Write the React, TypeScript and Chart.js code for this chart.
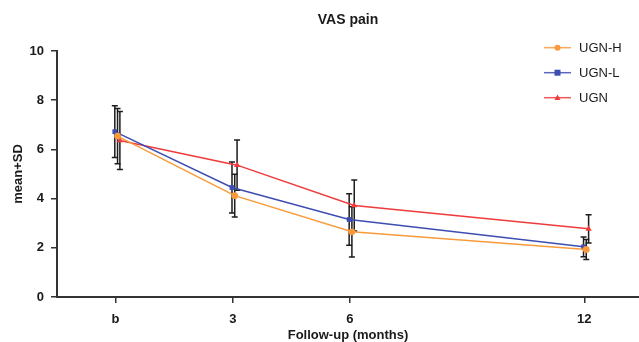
import React, { useEffect, useRef } from 'react';
import { Chart, registerables } from 'chart.js';

Chart.register(...registerables);

// ---- data ----
const timepoints = [0, 3, 6, 12];
const tickLabels = ['b', '3', '6', '12'];
const yTicks = [0, 2, 4, 6, 8, 10];

const ugnHMean = [6.54, 4.12, 2.65, 1.93];
const ugnHSD = [1.12, 0.87, 1.02, 0.41];
const ugnLMean = [6.72, 4.45, 3.15, 2.04];
const ugnLSD = [1.05, 1.04, 1.05, 0.4];
const ugnMean = [6.36, 5.36, 3.72, 2.77];
const ugnSD = [1.18, 1.02, 1.04, 0.57];

const FONT = '"Liberation Sans", Arial, Helvetica, sans-serif';
const TEXT = '#1a1a1a';
const AXIS = '#333333';

const series = [
  { name: 'UGN-H', mean: ugnHMean, sd: ugnHSD, color: '#F99B3A', marker: 'circle', dodge: 0.05 },
  { name: 'UGN-L', mean: ugnLMean, sd: ugnLSD, color: '#3D4DB2', marker: 'rect', dodge: -0.02 },
  { name: 'UGN', mean: ugnMean, sd: ugnSD, color: '#EF3B3B', marker: 'triangle', dodge: 0.11 },
];

function drawMarker(ctx: CanvasRenderingContext2D, kind: string, x: number, y: number, r: number, color: string) {
  ctx.save();
  ctx.fillStyle = color;
  ctx.beginPath();
  if (kind === 'circle') {
    ctx.arc(x, y, r, 0, Math.PI * 2);
  } else if (kind === 'rect') {
    ctx.rect(x - r, y - r, r * 2, r * 2);
  } else {
    ctx.moveTo(x, y - r * 1.1);
    ctx.lineTo(x + r, y + r * 0.8);
    ctx.lineTo(x - r, y + r * 0.8);
    ctx.closePath();
  }
  ctx.fill();
  ctx.restore();
}

const errorBarPlugin = {
  id: 'errorBars',
  beforeDatasetsDraw(chart: any) {
    const ctx = chart.ctx as CanvasRenderingContext2D;
    const yScale = chart.scales.y;
    ctx.save();
    ctx.strokeStyle = '#1c1c1c';
    ctx.lineWidth = 1.5;
    chart.data.datasets.forEach((ds: any, di: number) => {
      const meta = chart.getDatasetMeta(di);
      meta.data.forEach((el: any, i: number) => {
        const m = ds.data[i].y;
        const sd = ds.sd[i];
        const x = el.x;
        const yt = yScale.getPixelForValue(m + sd);
        const yb = yScale.getPixelForValue(m - sd);
        ctx.beginPath();
        ctx.moveTo(x, yt);
        ctx.lineTo(x, yb);
        ctx.moveTo(x - 3, yt);
        ctx.lineTo(x + 3, yt);
        ctx.moveTo(x - 3, yb);
        ctx.lineTo(x + 3, yb);
        ctx.stroke();
      });
    });
    ctx.restore();
  },
};

const titleLegendPlugin = {
  id: 'titleLegend',
  afterDraw(chart: any) {
    const ctx = chart.ctx as CanvasRenderingContext2D;
    const area = chart.chartArea;
    ctx.save();
    ctx.fillStyle = TEXT;
    ctx.font = `bold 14px ${FONT}`;
    ctx.textAlign = 'center';
    ctx.textBaseline = 'middle';
    ctx.fillText('VAS pain', (area.left + area.right) / 2, 20);

    ctx.font = `13px ${FONT}`;
    ctx.textAlign = 'left';
    series.forEach((s, i) => {
      const y = 47.7 + 25 * i;
      ctx.strokeStyle = s.color;
      ctx.globalAlpha = 0.85;
      ctx.lineWidth = 1.5;
      ctx.beginPath();
      ctx.moveTo(544, y);
      ctx.lineTo(571, y);
      ctx.stroke();
      ctx.globalAlpha = 1;
      drawMarker(ctx, s.marker, 557.5, y, 3, s.color);
      ctx.fillStyle = TEXT;
      ctx.fillText(s.name, 579, y + 0.5);
    });
    ctx.restore();
  },
};

export default function App() {
  const ref = useRef<HTMLCanvasElement | null>(null);

  useEffect(() => {
    if (!ref.current) return;
    const chart = new Chart(ref.current, {
      type: 'line',
      data: {
        datasets: series.map((s) => ({
          label: s.name,
          data: timepoints.map((t, i) => ({ x: t + s.dodge, y: s.mean[i] })),
          sd: s.sd,
          borderColor: s.color,
          backgroundColor: s.color,
          borderWidth: 1.5,
          pointStyle: s.marker,
          pointRadius: s.marker === 'triangle' ? 3.6 : 3.4,
          pointBorderWidth: 0,
          tension: 0,
          clip: false,
        })) as any,
      },
      plugins: [errorBarPlugin, titleLegendPlugin],
      options: {
        animation: false,
        responsive: false,
        events: [],
        layout: { autoPadding: false, padding: { top: 51, right: 0, bottom: 0, left: 0 } },
        plugins: {
          legend: { display: false },
          title: { display: false },
          tooltip: { enabled: false },
        },
        scales: {
          x: {
            type: 'linear',
            min: -1.5,
            max: 13.4,
            afterBuildTicks: (scale: any) => {
              scale.ticks = timepoints.map((v) => ({ value: v }));
            },
            afterFit: (scale: any) => {
              scale.height = 45;
              scale.paddingRight = 0;
              scale.paddingLeft = 0;
            },
            ticks: {
              autoSkip: false,
              maxRotation: 0,
              padding: 9,
              color: TEXT,
              font: { family: FONT, size: 13, weight: 'bold' },
              callback: (value: any) => {
                const idx = timepoints.indexOf(Number(value));
                return idx >= 0 ? tickLabels[idx] : '';
              },
            },
            grid: { drawOnChartArea: false, drawTicks: true, tickLength: 6, color: AXIS, lineWidth: 1.5 },
            border: { display: true, color: AXIS, width: 2 },
            title: {
              display: true,
              text: 'Follow-up (months)',
              color: TEXT,
              font: { family: FONT, size: 13, weight: 'bold' },
              padding: { top: 0, bottom: -1 },
            },
          },
          y: {
            type: 'linear',
            min: 0,
            max: 10,
            afterBuildTicks: (scale: any) => {
              scale.ticks = yTicks.map((v) => ({ value: v }));
            },
            afterFit: (scale: any) => {
              scale.width = 57;
            },
            ticks: {
              padding: 7,
              color: TEXT,
              font: { family: FONT, size: 13, weight: 'bold' },
            },
            grid: { drawOnChartArea: false, drawTicks: true, tickLength: 6, color: AXIS, lineWidth: 1.5 },
            border: { display: true, color: AXIS, width: 2 },
            title: {
              display: true,
              text: 'mean+SD',
              color: TEXT,
              font: { family: FONT, size: 13, weight: 'bold' },
              padding: { top: 11, bottom: 0 },
            },
          },
        },
      } as any,
    });
    return () => chart.destroy();
  }, []);

  return (
    <div style={{ position: 'absolute', left: 0, top: 0, width: 639, height: 342 }}>
      <canvas ref={ref} width={639} height={342} style={{ display: 'block' }} />
    </div>
  );
}
